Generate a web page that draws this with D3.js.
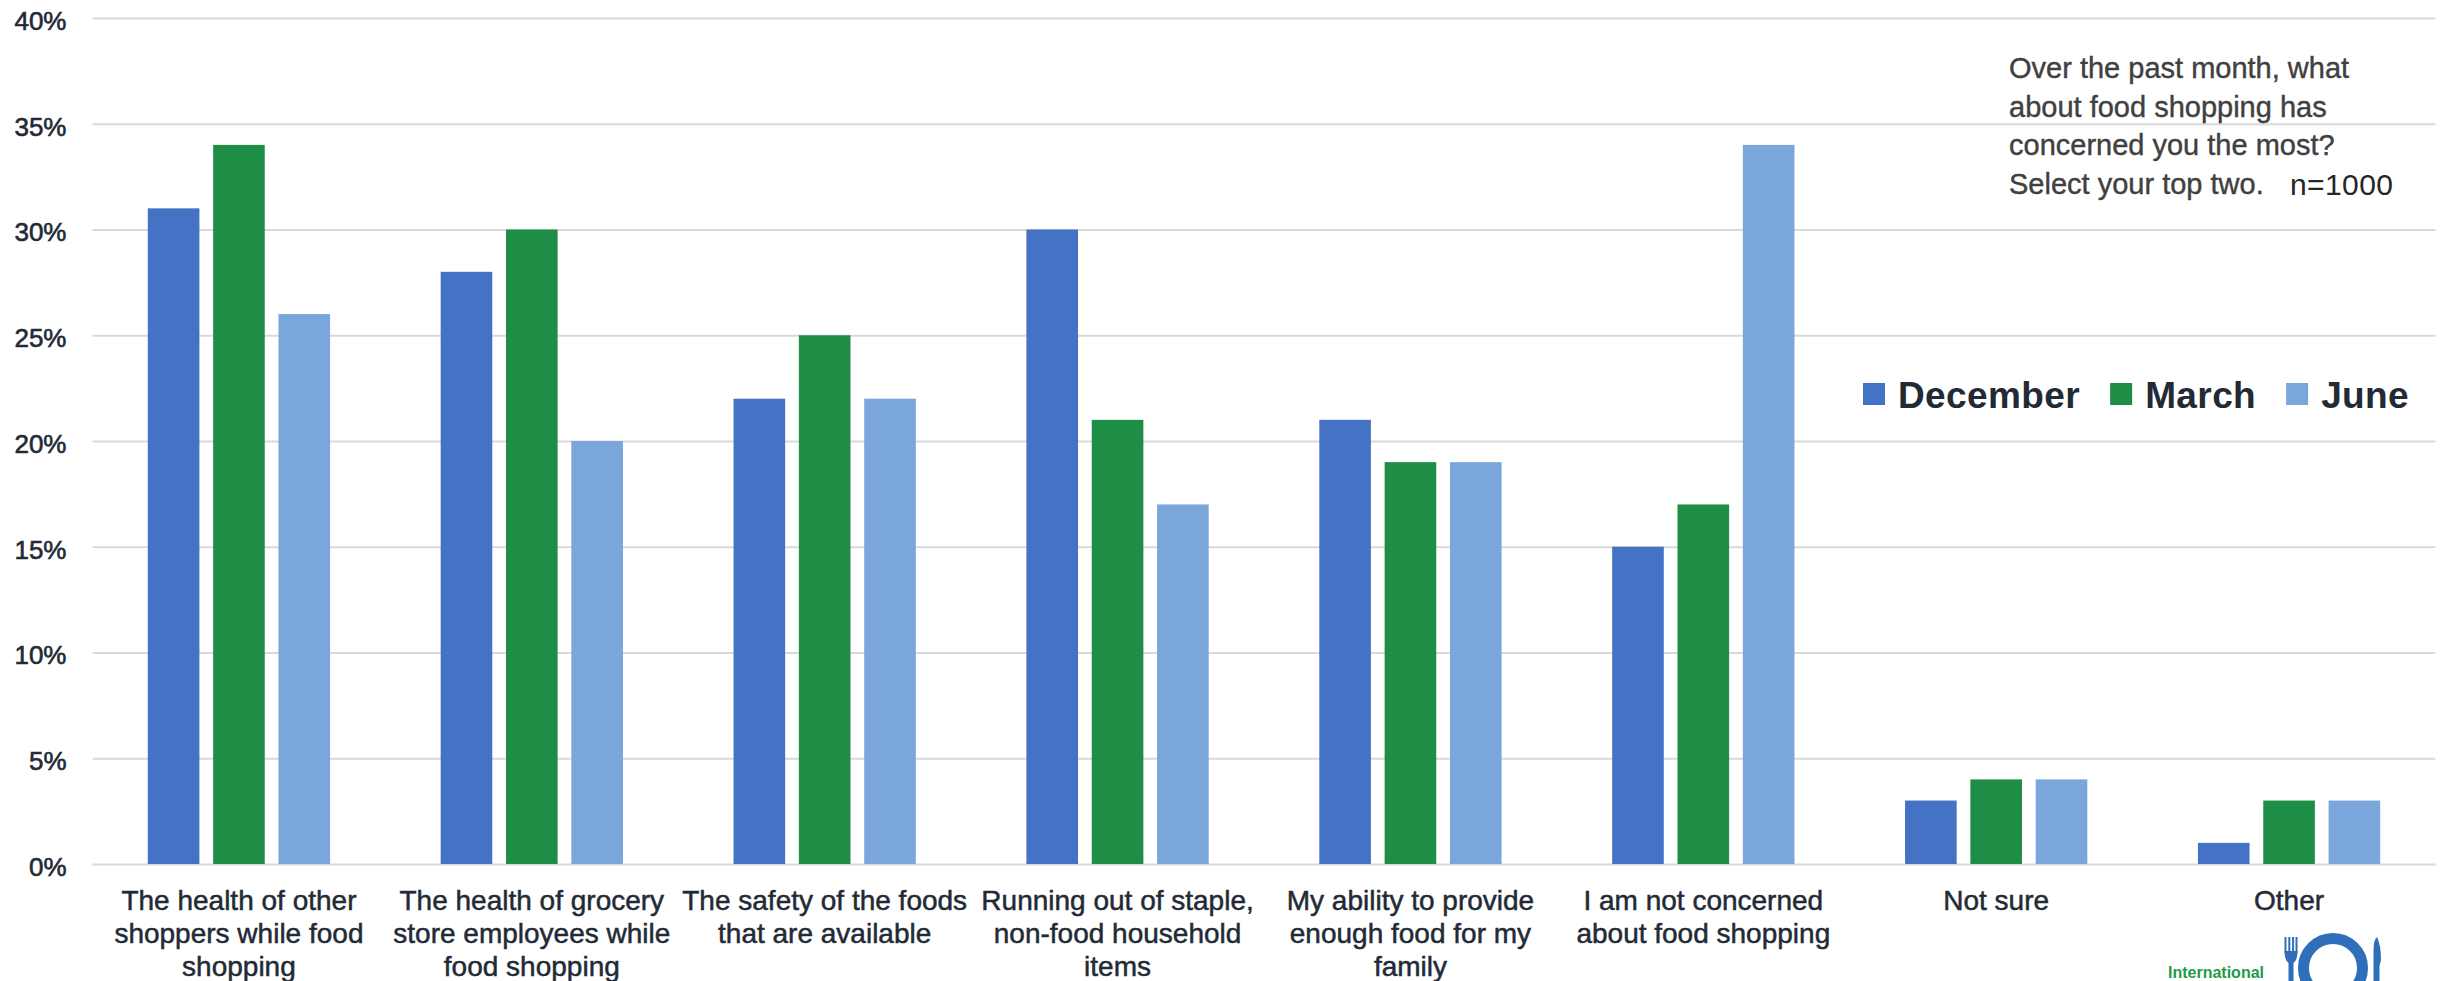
<!DOCTYPE html>
<html>
<head>
<meta charset="utf-8">
<script src="https://cdn.jsdelivr.net/npm/d3@7"></script>
<style>
  html, body { margin: 0; padding: 0; background: #ffffff; }
  svg { display: block; font-family: "Liberation Sans", Arial, sans-serif; }
</style>
</head>
<body>
<svg id="chart" width="2450" height="981"></svg>
<script>
// Survey answers, one entry per category ("\n" marks a line break in the axis label)
const categories = [
  "The health of other\nshoppers while food\nshopping",
  "The health of grocery\nstore employees while\nfood shopping",
  "The safety of the foods\nthat are available",
  "Running out of staple,\nnon-food household\nitems",
  "My ability to provide\nenough food for my\nfamily",
  "I am not concerned\nabout food shopping",
  "Not sure",
  "Other"
];
const seriesNames = ["December", "March", "June"];
const december = [31, 28, 22, 30, 21, 15, 3, 1];
const march    = [34, 30, 25, 21, 19, 17, 4, 3];
const june     = [26, 20, 22, 17, 19, 34, 4, 3];
const yTicks = [0, 5, 10, 15, 20, 25, 30, 35, 40];
const questionLines = [
  "Over the past month, what",
  "about food shopping has",
  "concerned you the most?",
  "Select your top two."
];
const sampleNote = "n=1000";

const colors = { December: "#4472c4", March: "#1e8e47", June: "#7aa6dc" };
const textColor = "#222a36";

const svg = d3.select("#chart");
const plot = { left: 92.5, right: 2435.5, top: 18, bottom: 864 };

const valuesBySeries = { December: december, March: march, June: june };
const rows = categories.map((c, i) => ({
  category: c,
  values: seriesNames.map(s => ({ series: s, value: valuesBySeries[s][i] }))
}));

const x0 = d3.scaleBand().domain(categories).range([plot.left, plot.right]);
const x1 = d3.scaleBand().domain(seriesNames).range([-98, 98])
  .paddingInner(0.21).paddingOuter(0.105);
const y = d3.scaleLinear().domain([0, 40]).range([plot.bottom, plot.top]);

// Horizontal gridlines with percentage labels
const yAxis = d3.axisLeft(y)
  .tickValues(yTicks)
  .tickSize(-(plot.right - plot.left))
  .tickPadding(26)
  .tickFormat(d => d + "%");
const gy = svg.append("g")
  .attr("transform", `translate(${plot.left},0)`)
  .call(yAxis);
gy.select(".domain").remove();
gy.selectAll(".tick line").attr("stroke", "#d9d9d9").attr("stroke-width", 2);
gy.selectAll(".tick text")
  .attr("fill", textColor)
  .attr("stroke", textColor)
  .attr("stroke-width", 0.6)
  .attr("font-size", 26)
  .attr("font-family", "'Liberation Sans', Arial, sans-serif")
  .attr("dy", "0.44em");

// Grouped bars
const groups = svg.append("g").selectAll("g")
  .data(rows)
  .join("g")
  .attr("transform", d => `translate(${x0(d.category) + x0.bandwidth() / 2},0)`);
groups.selectAll("rect")
  .data(d => d.values)
  .join("rect")
  .attr("x", d => x1(d.series))
  .attr("width", x1.bandwidth())
  .attr("y", d => y(d.value))
  .attr("height", d => y(0) - y(d.value))
  .attr("fill", d => colors[d.series]);

// Category labels, wrapped on explicit line breaks
const xLabels = svg.append("g").selectAll("text")
  .data(categories)
  .join("text")
  .attr("x", d => x0(d) + x0.bandwidth() / 2)
  .attr("y", 910)
  .attr("text-anchor", "middle")
  .attr("font-size", 28)
  .attr("fill", textColor)
  .attr("stroke", textColor)
  .attr("stroke-width", 0.5);
xLabels.selectAll("tspan")
  .data(d => d.split("\n"))
  .join("tspan")
  .attr("x", function() { return this.parentNode.getAttribute("x"); })
  .attr("dy", (d, i) => i === 0 ? 0 : 33)
  .text(d => d);

// Question text in the top-right corner
const note = svg.append("g").attr("fill", "#404040").attr("font-size", 29);
note.selectAll("text")
  .data(questionLines)
  .join("text")
  .attr("x", 2009)
  .attr("y", (d, i) => 78 + i * 38.5)
  .attr("stroke", "#404040")
  .attr("stroke-width", 0.4)
  .text(d => d);
note.append("text")
  .attr("x", 2290)
  .attr("y", 195)
  .attr("font-size", 30)
  .attr("fill", "#262626")
  .attr("letter-spacing", 0.4)
  .text(sampleNote);

// Legend
const legend = svg.append("g").attr("transform", "translate(1863,383)");
let lx = 0;
seriesNames.forEach(s => {
  const item = legend.append("g").attr("transform", `translate(${lx},0)`);
  item.append("rect").attr("width", 22).attr("height", 22).attr("fill", colors[s]);
  const t = item.append("text")
    .attr("x", 35).attr("y", 25)
    .attr("font-size", 37).attr("font-weight", "bold")
    .attr("letter-spacing", 0.4)
    .attr("fill", textColor)
    .text(s);
  lx += 35 + t.node().getComputedTextLength() + 30;
});

// Organisation logo near the bottom edge
const logo = svg.append("g");
logo.append("text")
  .attr("x", 2168).attr("y", 978)
  .attr("font-size", 16).attr("font-weight", "bold")
  .attr("fill", "#1f9a4a")
  .text("International");
const blue = "#2f6fba";
logo.append("circle")
  .attr("cx", 2333).attr("cy", 968).attr("r", 29.5)
  .attr("fill", "none").attr("stroke", blue).attr("stroke-width", 11);
// fork
[2285.5, 2289.3, 2293.1, 2296.5].forEach(fx => {
  logo.append("rect").attr("x", fx - 1).attr("y", 937).attr("width", 2).attr("height", 16).attr("fill", blue);
});
logo.append("path")
  .attr("d", "M2284.5,951 L2297.5,951 Q2297.5,960 2293.5,963 L2293.5,981 L2288.5,981 L2288.5,963 Q2284.5,960 2284.5,951 Z")
  .attr("fill", blue);
// knife
logo.append("path")
  .attr("d", "M2377,937 Q2381,945 2381,960 L2379.5,966 L2379.5,981 L2373.5,981 L2373.5,950 Q2373.5,940 2377,937 Z")
  .attr("fill", blue);
</script>
</body>
</html>
